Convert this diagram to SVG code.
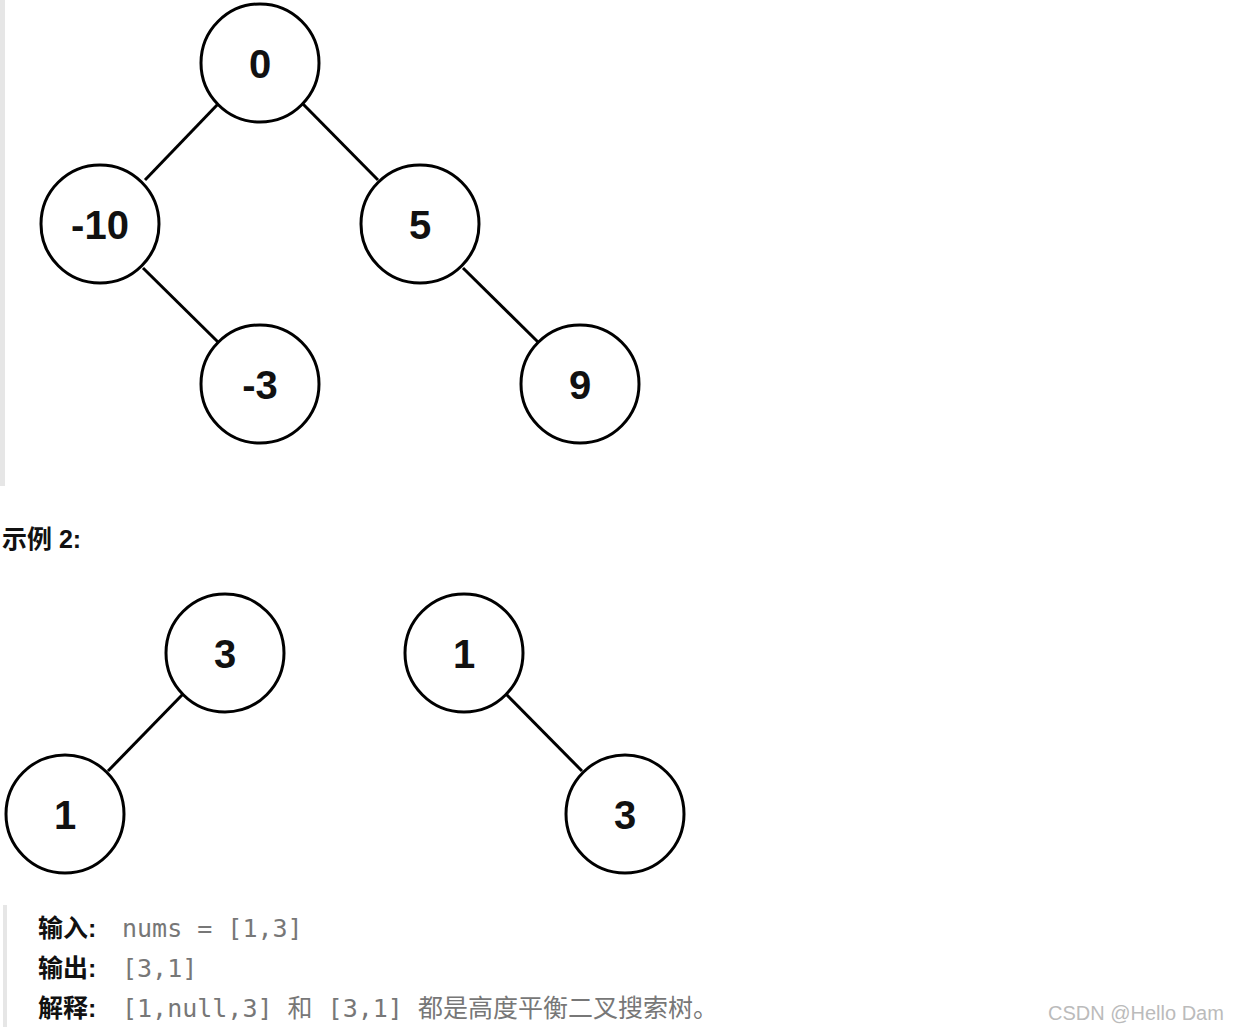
<svg xmlns="http://www.w3.org/2000/svg" width="1252" height="1034" viewBox="0 0 1252 1034">
<style>
.n{fill:#fff;stroke:#000;stroke-width:3}
.t{font-family:"Liberation Sans",Arial,sans-serif;font-weight:bold;font-size:40px;text-anchor:middle;fill:#111}
.e{stroke:#000;stroke-width:3}
.b{font-family:"Liberation Sans","Noto Sans CJK SC",sans-serif;font-weight:bold;font-size:25px;fill:#111}
.c{font-family:"DejaVu Sans Mono","Liberation Mono","Noto Sans CJK SC",monospace;font-size:25px;fill:#777}
</style>
<rect width="1252" height="1034" fill="#fff"/>
<rect x="0" y="0" width="5" height="486" fill="#e6e6e6"/>
<rect x="3" y="905" width="4" height="122" fill="#e6e6e6"/>
<g id="connectors">
<line class="e" x1="218" y1="104" x2="145" y2="180"/>
<line class="e" x1="303" y1="104" x2="378" y2="180"/>
<line class="e" x1="143" y1="268" x2="218" y2="342"/>
<line class="e" x1="463" y1="268" x2="538" y2="342"/>
<line class="e" x1="183" y1="694" x2="108" y2="771"/>
<line class="e" x1="506" y1="694" x2="582" y2="771"/>
</g>
<g id="n0"><circle class="n" cx="260" cy="63" r="59"/><text class="t" x="260" y="78">0</text></g>
<g id="n-10"><circle class="n" cx="100" cy="224" r="59"/><text class="t" x="100" y="239">-10</text></g>
<g id="n5"><circle class="n" cx="420" cy="224" r="59"/><text class="t" x="420" y="239">5</text></g>
<g id="n-3"><circle class="n" cx="260" cy="384" r="59"/><text class="t" x="260" y="399">-3</text></g>
<g id="n9"><circle class="n" cx="580" cy="384" r="59"/><text class="t" x="580" y="399">9</text></g>
<text class="b" x="2" y="548">示例 2:</text>
<g id="a3"><circle class="n" cx="225" cy="653" r="59"/><text class="t" x="225" y="668">3</text></g>
<g id="a1"><circle class="n" cx="65" cy="814" r="59"/><text class="t" x="65" y="829">1</text></g>
<g id="b1"><circle class="n" cx="464" cy="653" r="59"/><text class="t" x="464" y="668">1</text></g>
<g id="b3"><circle class="n" cx="625" cy="814" r="59"/><text class="t" x="625" y="829">3</text></g>
<text class="b" x="38" y="937">输入:</text><text class="c" x="122" y="937">nums = [1,3]</text>
<text class="b" x="38" y="977">输出:</text><text class="c" x="122" y="977">[3,1]</text>
<text class="b" x="38" y="1017">解释:</text><text class="c" x="122" y="1017">[1,null,3] 和 [3,1] 都是高度平衡二叉搜索树。</text>
<text x="1048" y="1020" font-family="Liberation Sans,Arial,sans-serif" font-size="20" fill="#bbb">CSDN @Hello Dam</text>
</svg>
